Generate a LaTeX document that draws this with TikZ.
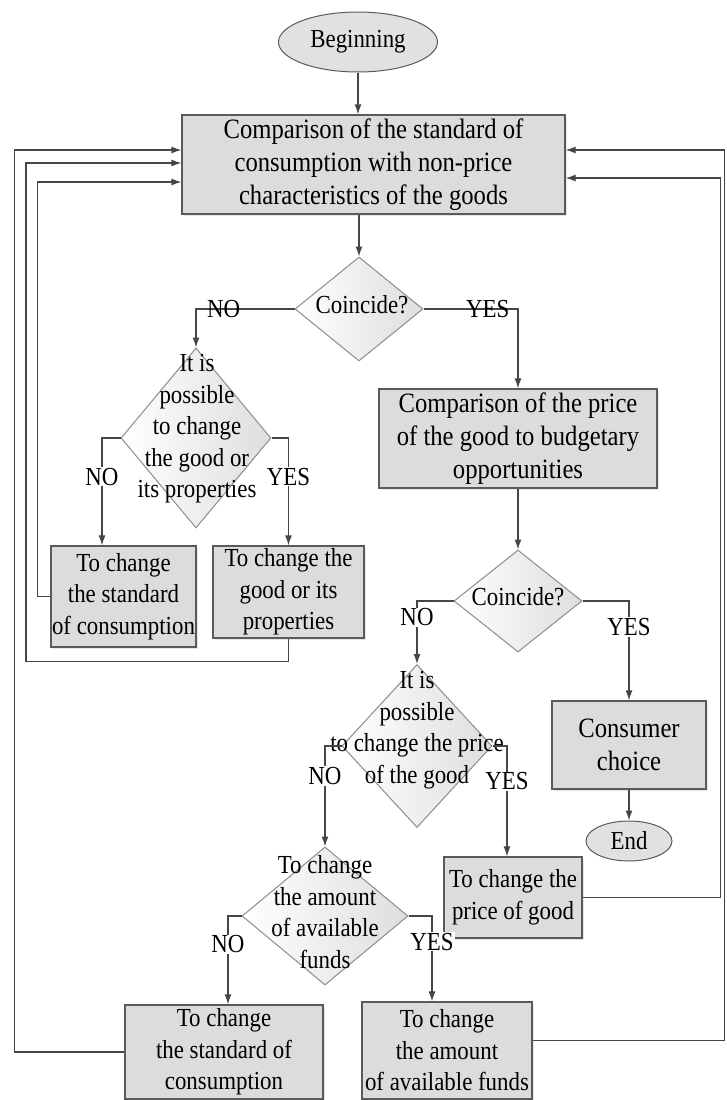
\documentclass[tikz,border=0pt]{standalone}
\usepackage{fontspec}
\setmainfont{Liberation Serif}[FakeStretch=0.88]
\usetikzlibrary{shapes.geometric,arrows.meta,shadows}

\definecolor{boxfill}{RGB}{220,220,220}
\definecolor{boxline}{RGB}{90,90,90}
\definecolor{dialine}{RGB}{140,140,140}
\definecolor{diafill}{RGB}{222,222,222}
\definecolor{termfill}{RGB}{225,225,225}
\definecolor{linegray}{RGB}{70,70,70}

\tikzset{
  every node/.style={font=\fontsize{26}{31.5}\selectfont},
  bigtext/.style={font=\fontsize{28}{33}\selectfont},
  proc/.style={draw=boxline, fill=boxfill, line width=1.2pt, align=center, inner xsep=1pt, inner ysep=2pt,
    drop shadow={shadow xshift=2pt, shadow yshift=-2pt, opacity=0.2}},
  term/.style={ellipse, draw=boxline, fill=termfill, line width=1pt, inner sep=0pt},
  dec/.style={diamond, draw=dialine, left color=white, right color=diafill, line width=1pt, inner sep=0pt},
  dtext/.style={align=center, inner sep=0pt},
  flow/.style={draw=linegray, line width=1.2pt, -{Latex[length=10pt,width=7pt]}},
  ans/.style={fill=white, inner sep=1pt},
  ansh/.style={inner sep=0pt}
}

\begin{document}
\begin{tikzpicture}[x=1pt, y=-1pt]
\useasboundingbox (0,0) rectangle (726,1100);

% main column
\node[term, minimum width=159pt, minimum height=60pt] (begin) at (358,42) {Beginning};
\node[proc, bigtext, minimum width=383pt, minimum height=99pt] (cmpstd) at (373.5,164.5)
  {Comparison of the standard of\\consumption with non-price\\characteristics of the goods};
\node[dec, minimum width=128pt, minimum height=104pt] (coinc1) at (359,309) {};
\node[dtext] (coinc1t) at ([xshift=3pt,yshift=4pt]coinc1) {Coincide?};
\node[proc, bigtext, minimum width=278pt, minimum height=99pt] (cmpprice) at (518,438.5)
  {Comparison of the price\\of the good to budgetary\\opportunities};
\node[dec, minimum width=128pt, minimum height=102pt] (coinc2) at (518,601) {};
\node[dtext] (coinc2t) at ([yshift=4pt]coinc2) {Coincide?};
\node[proc, bigtext, minimum width=154pt, minimum height=88pt] (choice) at (629,745) {Consumer\\choice};
\node[term, minimum width=86pt, minimum height=40pt] (end) at (629,841) {End};

% left branch
\node[dec, minimum width=150pt, minimum height=180pt] (poss1) at (196,438) {};
\node[dtext] (poss1t) at ([xshift=1pt,yshift=9pt]poss1) {It is\\possible\\to change\\the good or\\its properties};
\node[proc, minimum width=145pt, minimum height=101pt] (stdcons1) at (123.5,596.5)
  {To change\\the standard\\of consumption};
\node[proc, minimum width=151pt, minimum height=92pt] (chgood) at (288.5,592)
  {To change the\\good or its\\properties};

% lower branch
\node[dec, minimum width=150pt, minimum height=163pt] (possprice) at (417,746) {};
\node[dtext] (possprice_t) at ([yshift=16pt]possprice) {It is\\possible\\to change the price\\of the good};
\node[dec, minimum width=166pt, minimum height=138pt] (amount) at (325,916) {};
\node[dtext] (amount_t) at ([yshift=4pt]amount) {To change\\the amount\\of available\\funds};
\node[proc, minimum width=138pt, minimum height=81pt] (chprice) at (513,897.5)
  {To change the\\price of good};
\node[proc, minimum width=198pt, minimum height=94pt] (stdcons2) at (224,1052)
  {To change\\the standard of\\consumption};
\node[proc, minimum width=170pt, minimum height=97pt] (chfunds) at (447,1050.5)
  {To change\\the amount\\of available funds};

% connectors
\draw[flow] (begin.south) -- (begin.south |- cmpstd.north);
\draw[flow] (cmpstd.south -| coinc1.north) -- (coinc1.north);
\draw[flow] (coinc1.west) -| node[ansh, pos=0.36]{NO} (poss1.north);
\draw[flow] (coinc1.east) -| node[ansh, pos=0.34]{YES} (cmpprice.north);
\draw[flow] (cmpprice.south) -- (coinc2.north);
\draw[flow] (coinc2.west) -| node[ans, pos=0.63]{NO} (possprice.north);
\draw[flow] (coinc2.east) -| node[ans, pos=0.63]{YES} (choice.north);
\draw[flow] (choice.south) -- (end.north);
\draw[flow] (poss1.west) -| node[ans, pos=0.68]{NO} ([xshift=-21.5pt]stdcons1.north);
\draw[flow] (poss1.east) -| node[ans, pos=0.68]{YES} (chgood.north);
\draw[flow] (possprice.west) -| node[ans, pos=0.65]{NO} (amount.north);
\draw[flow] (possprice.east) -| node[ans, pos=0.66]{YES} ([xshift=-6pt]chprice.north);
\draw[flow] (amount.west) -| node[ans, pos=0.66]{NO} ([xshift=4pt]stdcons2.north);
\draw[flow] (amount.east) -| node[ans, pos=0.65]{YES} ([xshift=-15pt]chfunds.north);

% feedback loops
\draw[flow] (stdcons1.west) -- ++(-13,0) |- ([yshift=-17.5pt]cmpstd.west);
\draw[flow] (chgood.south) -- ++(0,23) -- ++(-262.5,0) |- ([yshift=1.5pt]cmpstd.west);
\draw[flow] (stdcons2.west) -- ++(-110,0) |- ([yshift=14.5pt]cmpstd.west);
\draw[flow] (chprice.east) -- ++(138,0) |- ([yshift=-13.5pt]cmpstd.east);
\draw[flow] ([yshift=10pt]chfunds.east) -- ++(192,0) |- ([yshift=14.5pt]cmpstd.east);
\end{tikzpicture}
\end{document}
